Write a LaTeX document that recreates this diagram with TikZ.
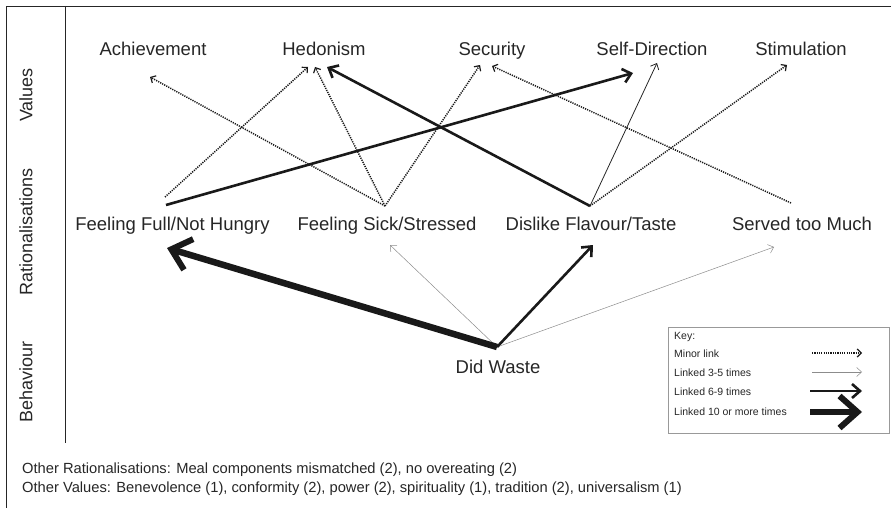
\documentclass[tikz,border=0pt]{standalone}
\usepackage{fontspec}
\setmainfont{Liberation Sans}
\usetikzlibrary{arrows.meta}
\begin{document}
\begin{tikzpicture}[x=1pt,y=-1pt,
  lbl/.style={font=\fontsize{18.5}{20}\selectfont, anchor=base, inner sep=0pt, text=black!85},
  rowlbl/.style={font=\fontsize{18}{20}\selectfont, rotate=90, inner sep=0pt, text=black!85},
  keytxt/.style={font=\fontsize{10.5}{12}\selectfont, anchor=base west, inner sep=0pt, text=black!85},
  foot/.style={font=\fontsize{14.7}{16}\selectfont, anchor=base west, inner sep=0pt, text=black!85},
  minor/.style={line width=1.5pt, dash pattern=on 1.2pt off 1.1pt, draw=black!90, -{Straight Barb[length=4pt,width=8pt,line width=1.2pt]}},
  thinlink/.style={line width=0.5pt, draw=black!45, -{Straight Barb[length=5pt,width=9pt,line width=0.5pt]}},
  thinblack/.style={line width=0.8pt, draw=black!85, -{Straight Barb[length=5pt,width=9pt,line width=0.8pt]}},
  midlink/.style={line width=2.6pt, draw=black!90, -{Straight Barb[length=8pt,width=14pt,line width=2.6pt]}},
  biglink/.style={line width=6.5pt, draw=black!90, -{Straight Barb[length=18pt,width=32pt,line width=6pt]}},
  frame/.style={line width=0.9pt, draw=black!85}
]
\useasboundingbox (0,0) rectangle (891,508);
% frame
\draw[frame] (6,508) -- (6,6) -- (891,6);
\draw[frame] (65,6) -- (65,443);
% row labels
\node[rowlbl] (rv) at (26,95) {Values};
\node[rowlbl] (rr) at (26,232) {Rationalisations};
\node[rowlbl] (rb) at (26,382) {Behaviour};
% value nodes
\node[lbl] (ach) at (153,56) {Achievement};
\node[lbl] (hed) at (324,56) {Hedonism};
\node[lbl] (sec) at (492,56) {Security};
\node[lbl] (sd) at (652,56) {Self-Direction};
\node[lbl] (stim) at (801,56) {Stimulation};
% rationalisation nodes
\node[lbl] (full) at (172.5,230) {Feeling Full/Not Hungry};
\node[lbl] (sick) at (387,230) {Feeling Sick/Stressed};
\node[lbl] (dis) at (591,230) {Dislike Flavour/Taste};
\node[lbl] (serv) at (802,230) {Served too Much};
% behaviour
\node[lbl] (waste) at (498,373) {Did Waste};
% connection points
\coordinate (fullA) at (165,197);
\coordinate (fullB) at (166,205);
\coordinate (sickT) at (385,206);
\coordinate (disT) at (590,206);
\coordinate (servT) at (791,203);
\coordinate (wasteT) at (497,347);
\coordinate (achIn) at (150,77);
\coordinate (hedIn1) at (308,67);
\coordinate (hedIn2) at (315,67);
\coordinate (hedIn3) at (327,67);
\coordinate (secIn1) at (480,65);
\coordinate (secIn2) at (492,66);
\coordinate (sdIn1) at (633,73);
\coordinate (sdIn2) at (657,63);
\coordinate (stimIn) at (787,65);
\coordinate (fullIn) at (167,248);
\coordinate (sickIn) at (390,245);
\coordinate (disIn) at (593,245);
\coordinate (servIn) at (774,247);
% rationalisation -> values
\draw[minor] (sickT) -- (achIn);
\draw[minor] (fullA) -- (hedIn1);
\draw[minor] (sickT) -- (hedIn2);
\draw[minor] (sickT) -- (secIn1);
\draw[minor] (servT) -- (secIn2);
\draw[minor] (disT) -- (stimIn);
\draw[thinblack] (disT) -- (sdIn2);
\draw[midlink] (disT) -- (hedIn3);
\draw[midlink] (fullB) -- (sdIn1);
% behaviour -> rationalisation
\draw[thinlink] (wasteT) -- (sickIn);
\draw[thinlink] (wasteT) -- (servIn);
\draw[midlink] (wasteT) -- (disIn);
\draw[biglink] (wasteT) -- (fullIn);
% key
\node[draw=black!40, line width=0.8pt, minimum width=221pt, minimum height=106pt, inner sep=0pt, anchor=north west] (key) at (668,327) {};
\node[keytxt] (k0) at (674,339) {Key:};
\node[keytxt] (k1) at (674,357) {Minor link};
\node[keytxt] (k2) at (674,376) {Linked 3-5 times};
\node[keytxt] (k3) at (674,395) {Linked 6-9 times};
\node[keytxt] (k4) at (674,415) {Linked 10 or more times};
\coordinate (k1a) at (812,353); \coordinate (k1b) at (862,353);
\coordinate (k2a) at (812,372); \coordinate (k2b) at (862,372);
\coordinate (k3a) at (810,391); \coordinate (k3b) at (862,391);
\coordinate (k4a) at (810,412); \coordinate (k4b) at (862,412);
\draw[minor] (k1a) -- (k1b);
\draw[thinlink] (k2a) -- (k2b);
\draw[midlink] (k3a) -- (k3b);
\draw[biglink] (k4a) -- (k4b);
% footer
\node[foot] (f1) at (22,473) {Other Rationalisations: Meal components mismatched (2), no overeating (2)};
\node[foot] (f2) at (22,492) {Other Values: Benevolence (1), conformity (2), power (2), spirituality (1), tradition (2), universalism (1)};
\end{tikzpicture}
\end{document}
